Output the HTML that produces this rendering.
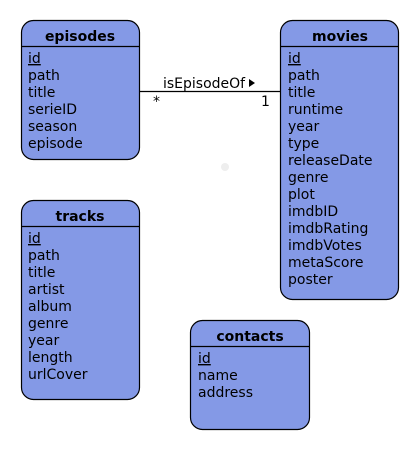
<!DOCTYPE html>
<html><head><style>
html,body{margin:0;padding:0;background:#fff;}
svg{display:block;}
text{font-family:"DejaVu Sans","Liberation Sans",sans-serif;font-size:14px;fill:#000;}
.t{font-weight:bold;text-anchor:middle;}
</style></head><body>
<svg width="420" height="450" viewBox="0 0 420 450">
<g stroke="#000" stroke-width="1.2" fill="#8499e6">
<rect x="21.5" y="20.5" width="118" height="139" rx="12"/>
<rect x="280.5" y="20.5" width="118" height="279" rx="12"/>
<rect x="21.5" y="200.5" width="118" height="199" rx="12"/>
<rect x="190.5" y="320.5" width="119" height="109" rx="12"/>
</g>
<g stroke="#000" stroke-width="1.2">
<line x1="21" y1="46.5" x2="140" y2="46.5"/>
<line x1="280" y1="46.5" x2="399" y2="46.5"/>
<line x1="21" y1="226.5" x2="140" y2="226.5"/>
<line x1="190" y1="346.5" x2="310" y2="346.5"/>
<line x1="140" y1="91.5" x2="280" y2="91.5"/>
</g>
<text x="163" y="88">isEpisodeOf</text>
<polygon points="249,79 255,83 249,87" fill="#000"/>
<text x="153" y="106">*</text>
<text x="261" y="106">1</text>
<circle cx="225" cy="167" r="4" fill="#eee"/>

<text class="t" x="80" y="41">episodes</text>
<g>
<text x="28" y="63" text-decoration="underline">id</text>
<text x="28" y="80">path</text>
<text x="28" y="97">title</text>
<text x="28" y="114">serieID</text>
<text x="28" y="131">season</text>
<text x="28" y="148">episode</text>
</g>

<text class="t" x="340" y="41">movies</text>
<g>
<text x="288" y="63" text-decoration="underline">id</text>
<text x="288" y="80">path</text>
<text x="288" y="97">title</text>
<text x="288" y="114">runtime</text>
<text x="288" y="131">year</text>
<text x="288" y="148">type</text>
<text x="288" y="165">releaseDate</text>
<text x="288" y="182">genre</text>
<text x="288" y="199">plot</text>
<text x="288" y="216">imdbID</text>
<text x="288" y="233">imdbRating</text>
<text x="288" y="250">imdbVotes</text>
<text x="288" y="267">metaScore</text>
<text x="288" y="284">poster</text>
</g>

<text class="t" x="80" y="221">tracks</text>
<g>
<text x="28" y="243" text-decoration="underline">id</text>
<text x="28" y="260">path</text>
<text x="28" y="277">title</text>
<text x="28" y="294">artist</text>
<text x="28" y="311">album</text>
<text x="28" y="328">genre</text>
<text x="28" y="345">year</text>
<text x="28" y="362">length</text>
<text x="28" y="379">urlCover</text>
</g>

<text class="t" x="250" y="341">contacts</text>
<g>
<text x="198" y="363" text-decoration="underline">id</text>
<text x="198" y="380">name</text>
<text x="198" y="397">address</text>
</g>
</svg>
</body></html>
